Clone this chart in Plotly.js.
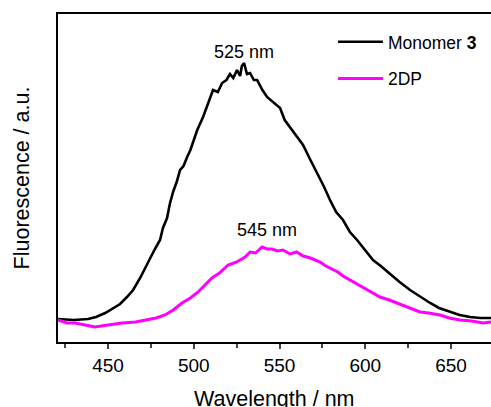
<!DOCTYPE html>
<html>
<head>
<meta charset="utf-8">
<script src="https://cdn.plot.ly/plotly-3.0.1.min.js"></script>
<style>html,body{margin:0;padding:0;background:#fff;}#chart{width:491px;height:407px;}</style>
</head>
<body>
<div id="chart"></div>
<script>
// Monomer 3 emission (wavelength nm, fluorescence a.u.)
var monomerWl = [420.8, 430, 438.3, 443, 448.3, 452, 457.0, 461, 464.6, 468.7, 471, 474.5, 477, 480.3, 482, 484.4, 486, 487.9, 490, 492.0, 494, 496.1, 498, 499.6, 502, 505.4, 508, 511.2, 514, 516.5, 519, 521.1, 523, 525.2, 527, 528, 529.3, 531, 532.8, 535, 536.9, 540, 542.7, 546, 550.3, 553, 556.1, 560, 563.7, 568, 571.9, 576, 579.4, 583, 587.0, 591, 595.2, 600, 604.5, 609, 614.4, 620, 626.1, 632, 637.8, 643, 649.4, 655, 661.1, 667, 673.3];
var monomerI  = [23, 22, 23, 25, 29, 33, 38, 45, 52, 64, 72, 84, 92, 102, 114, 124, 138, 150, 160, 172, 176, 185, 192, 200, 212, 225, 238, 252, 250, 259, 262, 268, 264, 272, 266, 276, 279, 268, 269, 262, 262, 252, 245, 240, 234, 222, 215, 205, 197, 182, 169, 155, 142, 130, 122, 110, 102, 92, 82, 76, 68, 60, 52, 45, 39, 34, 30, 27, 25, 24, 24];
// 2DP emission
var dpWl = [420.8, 426, 430.8, 436, 442.4, 450, 458.2, 466, 473.3, 478, 483.2, 488, 493.1, 498, 502.5, 506, 510.6, 515, 520.0, 525, 529.9, 532.8, 536, 539.8, 542.7, 545.6, 549, 552.0, 556.1, 560, 563.7, 568, 573.6, 577, 581.2, 584, 587.0, 592, 596.9, 603, 608.6, 614, 620.3, 626, 631.9, 637, 643.6, 649, 655.2, 662, 668.7, 673.3];
var dpI  = [22, 19, 19, 17, 15, 17, 19, 20, 22, 24, 27, 32, 39, 44, 50, 56, 64, 69, 77, 80, 85, 90, 89, 95, 93, 93, 91, 92, 88, 90, 86, 84, 80, 76, 72, 70, 66, 61, 56, 50, 45, 42, 38, 34, 30, 29, 27, 24, 22, 21, 19, 20];
var seriesNames = ['Monomer <b>3</b>', '2DP'];
var tickVals = [450, 500, 550, 600, 650];
var peakLabels = ['525 nm', '545 nm'];
var xTitle = 'Wavelength / nm';
var yTitle = 'Fluorescence / a.u.';

var FONT = 'Arial, "Liberation Sans", sans-serif';
var data = [
  {x: monomerWl, y: monomerI, type: 'scatter', mode: 'lines', name: seriesNames[0], legendgroup: 'a',
   line: {color: '#000000', width: 2.6}},
  {x: dpWl, y: dpI, type: 'scatter', mode: 'lines', name: seriesNames[1], legendgroup: 'b',
   line: {color: '#ff00ff', width: 3}}
];
var layout = {
  width: 491, height: 407,
  margin: {l: 58, r: 0, t: 14, b: 65, pad: 0},
  paper_bgcolor: '#ffffff', plot_bgcolor: '#ffffff',
  font: {family: FONT, color: '#000000'},
  showlegend: true,
  legend: {x: 0.635, y: 0.97, xanchor: 'left', yanchor: 'top', bgcolor: 'rgba(0,0,0,0)',
           itemwidth: 45,
           font: {size: 17.5, family: FONT}, tracegroupgap: 11, traceorder: 'grouped'},
  xaxis: {range: [420.8, 673.3], tickvals: tickVals, ticks: 'outside', ticklen: 5, tickwidth: 2,
          tickfont: {size: 19, family: FONT}, showline: true, linewidth: 2, linecolor: '#000',
          mirror: true, showgrid: false, zeroline: false,
          minor: {dtick: 25, tick0: 425, ticks: 'outside', ticklen: 4, tickwidth: 2, showgrid: false}},
  yaxis: {range: [0, 328], showticklabels: false, ticks: '', showline: true, linewidth: 2,
          linecolor: '#000', showgrid: false, zeroline: false,
          title: {text: yTitle, font: {size: 21.5, family: FONT}, standoff: 20}},
  annotations: [
    {x: 529.3, y: 290, xref: 'x', yref: 'y', text: peakLabels[0], showarrow: false, font: {size: 18, family: FONT}},
    {x: 542.7, y: 112, xref: 'x', yref: 'y', text: peakLabels[1], showarrow: false, font: {size: 18, family: FONT}},
    {x: 0.499, y: 0, xref: 'paper', yref: 'paper', yanchor: 'middle', yshift: -57, text: xTitle,
     showarrow: false, font: {size: 21.5, family: FONT}}
  ]
};
Plotly.newPlot('chart', data, layout, {displayModeBar: false, staticPlot: true});
</script>
</body>
</html>
